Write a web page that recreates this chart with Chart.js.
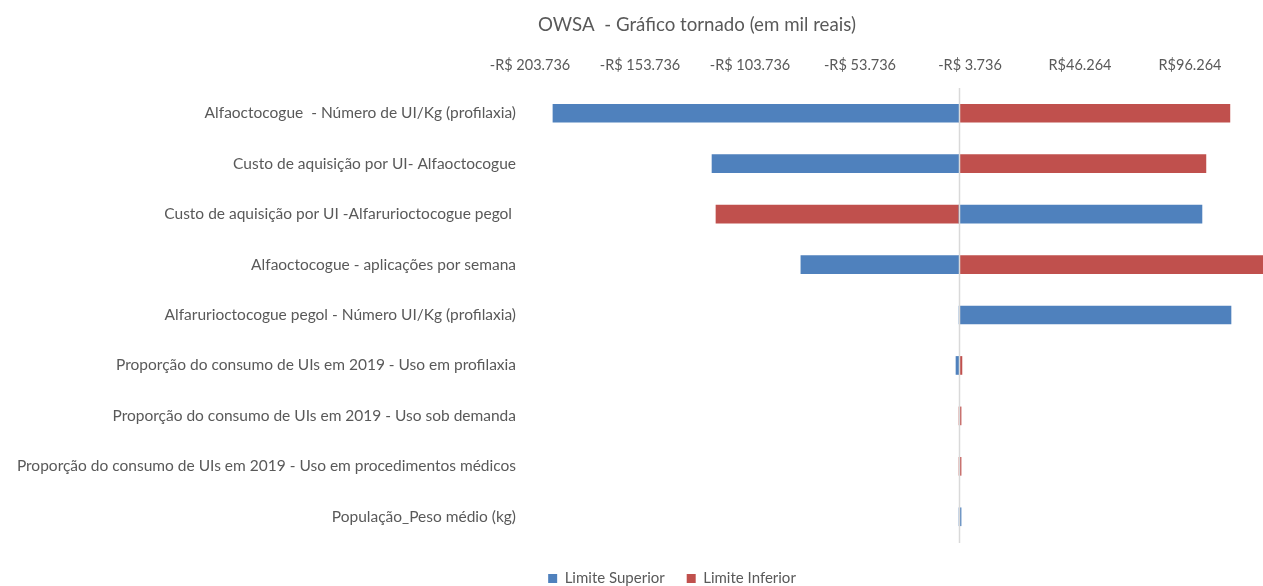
<!DOCTYPE html>
<html>
<head>
<meta charset="utf-8">
<script src="https://cdn.jsdelivr.net/npm/chart.js@4.4.1/dist/chart.umd.min.js"></script>
<style>
  html, body { margin: 0; padding: 0; overflow: hidden; background: #ffffff; }
  #wrap { position: absolute; left: 0; top: 0; width: 1344px; height: 596px; }
</style>
</head>
<body>
<div id="wrap"><canvas id="c"></canvas></div>
<script>
const chartTitle = 'OWSA  - Gráfico tornado (em mil reais)';
const categories = [
  'Alfaoctocogue  - Número de UI/Kg (profilaxia)',
  'Custo de aquisição por UI- Alfaoctocogue',
  'Custo de aquisição por UI -Alfarurioctocogue pegol ',
  'Alfaoctocogue - aplicações por semana',
  'Alfarurioctocogue pegol - Número UI/Kg (profilaxia)',
  'Proporção do consumo de UIs em 2019 - Uso em profilaxia',
  'Proporção do consumo de UIs em 2019 - Uso sob demanda',
  'Proporção do consumo de UIs em 2019 - Uso em procedimentos médicos',
  'População_Peso médio (kg)'
];
const seriesNames = ['Limite Superior', 'Limite Inferior'];
const baseValue = -8.736;
const limiteSuperior = [-193.3, -121.0, 101.7, -80.6, 114.9, -10.1, null, null, -7.8];
const limiteInferior = [114.4, 103.5, -119.2, 145.0, null, -7.4, -7.8, -7.8, null];
const tickValues = [-203.736, -153.736, -103.736, -53.736, -3.736, 46.264, 96.264];
const tickLabels = ['-R$ 203.736', '-R$ 153.736', '-R$ 103.736', '-R$ 53.736', '-R$ 3.736', 'R$46.264', 'R$96.264'];
const axisMin = -203.736;
const axisMax = 166.264;

const FONT = 'Lato, "Open Sans", sans-serif';
const GREY = '#595959';

const toRange = arr => arr.map(v => (v === null ? null : [baseValue, v]));

const baseLinePlugin = {
  id: 'baseLine',
  afterDatasetsDraw(chart) {
    const { ctx, chartArea, scales } = chart;
    const x = Math.round(scales.x.getPixelForValue(baseValue)) + 0.5;
    ctx.save();
    ctx.strokeStyle = '#d9d9d9';
    ctx.lineWidth = 1.5;
    ctx.beginPath();
    ctx.moveTo(x, chartArea.top);
    ctx.lineTo(x, chartArea.bottom + 1);
    ctx.stroke();
    ctx.restore();
  }
};

const titlePlugin = {
  id: 'customTitle',
  afterDraw(chart) {
    const { ctx } = chart;
    ctx.save();
    ctx.font = '18.7px ' + FONT;
    ctx.fillStyle = GREY;
    ctx.textAlign = 'center';
    ctx.textBaseline = 'middle';
    ctx.fillText(chartTitle, 697, 25);
    ctx.restore();
  }
};

new Chart(document.getElementById('c'), {
  type: 'bar',
  data: {
    labels: categories,
    datasets: [
      {
        label: seriesNames[0],
        data: toRange(limiteSuperior),
        backgroundColor: '#4f81bd',
        borderWidth: 0,
        grouped: false,
        barThickness: 18
      },
      {
        label: seriesNames[1],
        data: toRange(limiteInferior),
        backgroundColor: '#c0504d',
        borderWidth: 0,
        grouped: false,
        barThickness: 18
      }
    ]
  },
  options: {
    indexAxis: 'y',
    responsive: true,
    maintainAspectRatio: false,
    animation: false,
    layout: { padding: { left: 0, right: 0, top: 0, bottom: 0 } },
    scales: {
      x: {
        type: 'linear',
        position: 'top',
        min: axisMin,
        max: axisMax,
        afterBuildTicks: s => { s.ticks = tickValues.map(v => ({ value: v })); },
        afterFit: s => { s.height = 88; },
        ticks: {
          autoSkip: false,
          maxRotation: 0,
          padding: 14,
          color: GREY,
          font: { family: FONT, size: 14.5 },
          callback: (v) => { const i = tickValues.indexOf(v); return i >= 0 ? tickLabels[i] : ''; }
        },
        grid: { display: false, drawTicks: false },
        border: { display: false }
      },
      x2: {
        type: 'linear',
        axis: 'x',
        position: 'bottom',
        display: true,
        afterFit: s => { s.height = 7; },
        ticks: { display: false },
        grid: { display: false, drawTicks: false },
        border: { display: false }
      },
      y: {
        type: 'category',
        position: 'left',
        afterFit: s => { s.width = 530; },
        ticks: {
          autoSkip: false,
          padding: 14,
          color: GREY,
          font: { family: FONT, size: 15.5 }
        },
        grid: { display: false, drawTicks: false },
        border: { display: false }
      }
    },
    plugins: {
      title: { display: false },
      tooltip: { enabled: false },
      legend: {
        display: true,
        position: 'bottom',
        labels: {
          boxWidth: 9,
          boxHeight: 9,
          padding: 22,
          color: GREY,
          font: { family: FONT, size: 15 }
        }
      }
    }
  },
  plugins: [baseLinePlugin, titlePlugin]
});
</script>
</body>
</html>
